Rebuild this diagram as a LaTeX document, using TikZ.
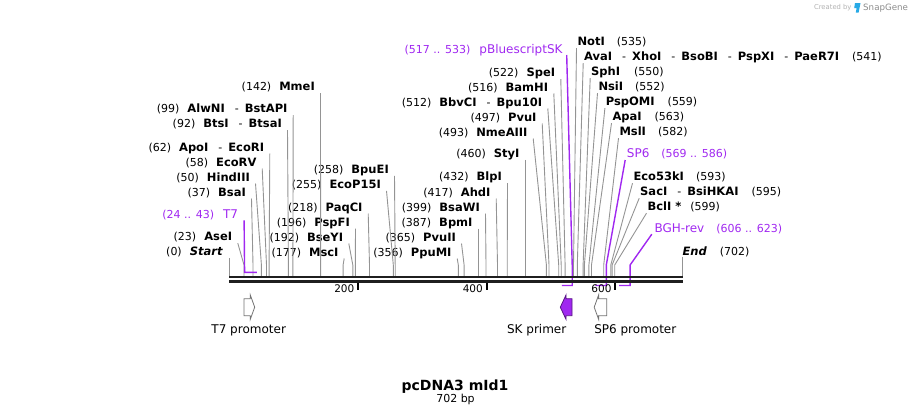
\documentclass[tikz,border=0pt]{standalone}
\usepackage{fontspec}
\setmainfont{DejaVu Sans}
\definecolor{prim}{RGB}{160,40,240}
\definecolor{logoblue}{RGB}{40,170,230}
\newcommand\enzname[1]{{\fontsize{11.5}{13}\selectfont\bfseries #1}}
\newcommand\featname[1]{{\fontsize{12}{14}\selectfont #1}}
\newcommand\orsep{\hspace{10pt}-\hspace{6pt}}
\newcommand\numsep{\hspace{8pt}}
\tikzset{
	site/.style={inner sep=0pt, font=\fontsize{11}{13}\selectfont},
	lsite/.style={site, anchor=base east},
	rsite/.style={site, anchor=base west},
	cut/.style={draw=black!42, line width=0.9pt},
	oligo/.style={draw=prim, line width=1.4pt},
	backbone/.style={draw=black!88, line width=2.5pt},
	promo/.style={draw=black!55, fill=white, line width=0.8pt},
	skbox/.style={draw=prim!55!black, fill=prim, line width=0.8pt}
}

\begin{document}
\begin{tikzpicture}[x=1pt,y=-1pt]
	\useasboundingbox (0,0) rectangle (912,415);

	\coordinate (bt) at (0,275.8);
	\coordinate (pt) at (0,272.3);
	\coordinate (pb) at (0,285.5);

	\coordinate (s0) at (229.2,265);
	\coordinate (s23) at (244.0,265);
	\coordinate (s24) at (244.6,265);
	\coordinate (s37) at (253.0,265);
	\coordinate (s43) at (256.9,265);
	\coordinate (s50) at (261.4,265);
	\coordinate (s58) at (266.5,265);
	\coordinate (s62) at (269.1,265);
	\coordinate (s92) at (288.4,265);
	\coordinate (s99) at (292.9,265);
	\coordinate (s142) at (320.6,265);
	\coordinate (s177) at (343.1,265);
	\coordinate (s192) at (352.8,265);
	\coordinate (s196) at (355.3,265);
	\coordinate (s218) at (369.5,265);
	\coordinate (s255) at (393.3,265);
	\coordinate (s258) at (395.2,265);
	\coordinate (s356) at (458.3,265);
	\coordinate (s365) at (464.1,265);
	\coordinate (s387) at (478.2,265);
	\coordinate (s399) at (486.0,265);
	\coordinate (s417) at (497.5,265);
	\coordinate (s432) at (507.2,265);
	\coordinate (s460) at (525.2,265);
	\coordinate (s493) at (546.4,265);
	\coordinate (s497) at (549.0,265);
	\coordinate (s512) at (558.7,265);
	\coordinate (s516) at (561.2,265);
	\coordinate (s517) at (561.9,265);
	\coordinate (s522) at (565.1,265);
	\coordinate (s533) at (572.2,265);
	\coordinate (s535) at (573.5,265);
	\coordinate (s541) at (577.3,265);
	\coordinate (s550) at (583.1,265);
	\coordinate (s552) at (584.4,265);
	\coordinate (s559) at (588.9,265);
	\coordinate (s563) at (591.5,265);
	\coordinate (s569) at (595.4,265);
	\coordinate (s582) at (603.7,265);
	\coordinate (s586) at (606.3,265);
	\coordinate (s593) at (610.8,265);
	\coordinate (s595) at (612.1,265);
	\coordinate (s599) at (614.7,265);
	\coordinate (s606) at (619.2,265);
	\coordinate (s623) at (630.1,265);
	\coordinate (s702) at (682.0,265);

	\draw (315,90.7) node[lsite] (mme) {(142)\numsep\enzname{MmeI}};
	\draw (287.7,112.7) node[lsite] (alw) {(99)\numsep\enzname{AlwNI}\orsep\enzname{BstAPI}};
	\draw (282,127.7) node[lsite] (bts) {(92)\numsep\enzname{BtsI}\orsep\enzname{BtsaI}};
	\draw (264.3,151) node[lsite] (apo) {(62)\numsep\enzname{ApoI}\orsep\enzname{EcoRI}};
	\draw (256.7,166) node[lsite] (ecv) {(58)\numsep\enzname{EcoRV}};
	\draw (250,181) node[lsite] (hind) {(50)\numsep\enzname{HindIII}};
	\draw (246,196) node[lsite] (bsa) {(37)\numsep\enzname{BsaI}};
	\draw (238.3,218.3) node[lsite, text=prim] (t7) {(24 .. 43)\hspace{9pt}\featname{T7}};
	\draw (232.3,240.7) node[lsite] (ase) {(23)\numsep\enzname{AseI}};
	\draw (222.7,255.7) node[lsite] (start) {(0)\numsep\enzname{\itshape Start}};

	\draw (389,173.3) node[lsite] (bpu) {(258)\numsep\enzname{BpuEI}};
	\draw (381,188.3) node[lsite] (ecop) {(255)\numsep\enzname{EcoP15I}};
	\draw (362.7,211) node[lsite] (paq) {(218)\numsep\enzname{PaqCI}};
	\draw (350,226) node[lsite] (pspf) {(196)\numsep\enzname{PspFI}};
	\draw (343.3,241) node[lsite] (bsey) {(192)\numsep\enzname{BseYI}};
	\draw (338.7,256) node[lsite] (msc) {(177)\numsep\enzname{MscI}};

	\draw (519.7,157.3) node[lsite] (sty) {(460)\numsep\enzname{StyI}};
	\draw (502,180.7) node[lsite] (blp) {(432)\numsep\enzname{BlpI}};
	\draw (490.7,196) node[lsite] (ahd) {(417)\numsep\enzname{AhdI}};
	\draw (480,211) node[lsite] (bsaw) {(399)\numsep\enzname{BsaWI}};
	\draw (472.7,226) node[lsite] (bpm) {(387)\numsep\enzname{BpmI}};
	\draw (456,241) node[lsite] (pvutwo) {(365)\numsep\enzname{PvuII}};
	\draw (451.7,256) node[lsite] (ppu) {(356)\numsep\enzname{PpuMI}};

	\draw (562.7,53.3) node[lsite, text=prim] (sk) {(517 .. 533)\hspace{9pt}\featname{pBluescriptSK}};
	\draw (555.3,76.7) node[lsite] (spe) {(522)\numsep\enzname{SpeI}};
	\draw (548.3,91) node[lsite] (bam) {(516)\numsep\enzname{BamHI}};
	\draw (542.3,106) node[lsite] (bbv) {(512)\numsep\enzname{BbvCI}\orsep\enzname{Bpu10I}};
	\draw (536.7,121) node[lsite] (pvuone) {(497)\numsep\enzname{PvuI}};
	\draw (527.7,136) node[lsite] (nme) {(493)\numsep\enzname{NmeAIII}};

	\draw (577.3,45.7) node[rsite] (noti) {\enzname{NotI}\hspace{12pt}(535)};
	\draw (584,60.7) node[rsite] (ava) {\enzname{AvaI}\orsep\enzname{XhoI}\orsep\enzname{BsoBI}\orsep\enzname{PspXI}\orsep\enzname{PaeR7I}\hspace{13pt}(541)};
	\draw (591,75.7) node[rsite] (sph) {\enzname{SphI}\hspace{14pt}(550)};
	\draw (598.3,90.7) node[rsite] (nsi) {\enzname{NsiI}\hspace{12pt}(552)};
	\draw (605.7,105.7) node[rsite] (pspo) {\enzname{PspOMI}\hspace{13pt}(559)};
	\draw (612.3,120.7) node[rsite] (apa) {\enzname{ApaI}\hspace{13pt}(563)};
	\draw (619.3,135.7) node[rsite] (msl) {\enzname{MslI}\hspace{12pt}(582)};
	\draw (626.7,157.7) node[rsite, text=prim] (sp6) {\featname{SP6}\hspace{12pt}(569 .. 586)};
	\draw (633.3,180.7) node[rsite] (eco53) {\enzname{Eco53kI}\hspace{12pt}(593)};
	\draw (640,195.7) node[rsite] (sac) {\enzname{SacI}\orsep\enzname{BsiHKAI}\hspace{13pt}(595)};
	\draw (647.3,210.7) node[rsite] (bcl) {\enzname{BclI *}\hspace{9pt}(599)};
	\draw (654.3,232.7) node[rsite, text=prim] (bgh) {\featname{BGH-rev}\hspace{12pt}(606 .. 623)};
	\draw (682.3,255.7) node[rsite] (end) {\enzname{\itshape End}\hspace{13pt}(702)};

	\draw [cut] ([shift={(5.5,2.5)}]mme.base east) -- (s142) -- (s142 |- bt);
	\draw [cut] ([shift={(5.5,2.5)}]alw.base east) -- (s99) -- (s99 |- bt);
	\draw [cut] ([shift={(5.5,2.5)}]bts.base east) -- (s92) -- (s92 |- bt);
	\draw [cut] ([shift={(5.5,2.5)}]apo.base east) -- (s62) -- (s62 |- bt);
	\draw [cut] ([shift={(5.5,2.5)}]ecv.base east) -- (s58) -- (s58 |- bt);
	\draw [cut] ([shift={(5.5,2.5)}]hind.base east) -- (s50) -- (s50 |- bt);
	\draw [cut] ([shift={(5.5,2.5)}]bsa.base east) -- (s37) -- (s37 |- bt);
	\draw [cut] ([shift={(5.5,2.5)}]ase.base east) -- (s23) -- (s23 |- bt);
	\draw [cut] ([shift={(6.5,2.5)}]start.base east) -- (s0) -- (s0 |- bt);
	\draw [cut] ([shift={(5.5,2.5)}]bpu.base east) -- (s258) -- (s258 |- bt);
	\draw [cut] ([shift={(5.5,2.5)}]ecop.base east) -- (s255) -- (s255 |- bt);
	\draw [cut] ([shift={(5.5,2.5)}]paq.base east) -- (s218) -- (s218 |- bt);
	\draw [cut] ([shift={(5.5,2.5)}]pspf.base east) -- (s196) -- (s196 |- bt);
	\draw [cut] ([shift={(5.5,2.5)}]bsey.base east) -- (s192) -- (s192 |- bt);
	\draw [cut] ([shift={(5.5,2.5)}]msc.base east) -- (s177) -- (s177 |- bt);
	\draw [cut] ([shift={(5.5,2.5)}]sty.base east) -- (s460) -- (s460 |- bt);
	\draw [cut] ([shift={(5.5,2.5)}]blp.base east) -- (s432) -- (s432 |- bt);
	\draw [cut] ([shift={(5.5,2.5)}]ahd.base east) -- (s417) -- (s417 |- bt);
	\draw [cut] ([shift={(5.5,2.5)}]bsaw.base east) -- (s399) -- (s399 |- bt);
	\draw [cut] ([shift={(5.5,2.5)}]bpm.base east) -- (s387) -- (s387 |- bt);
	\draw [cut] ([shift={(5.5,2.5)}]pvutwo.base east) -- (s365) -- (s365 |- bt);
	\draw [cut] ([shift={(5.5,2.5)}]ppu.base east) -- (s356) -- (s356 |- bt);
	\draw [cut] ([shift={(5.5,2.5)}]spe.base east) -- (s522) -- (s522 |- bt);
	\draw [cut] ([shift={(5.5,2.5)}]bam.base east) -- (s516) -- (s516 |- bt);
	\draw [cut] ([shift={(5.5,2.5)}]bbv.base east) -- (s512) -- (s512 |- bt);
	\draw [cut] ([shift={(5.5,2.5)}]pvuone.base east) -- (s497) -- (s497 |- bt);
	\draw [cut] ([shift={(5.5,2.5)}]nme.base east) -- (s493) -- (s493 |- bt);
	\draw [cut] ([shift={(-0.8,2.5)}]noti.base west) -- (s535) -- (s535 |- bt);
	\draw [cut] ([shift={(-0.8,2.5)}]ava.base west) -- (s541) -- (s541 |- bt);
	\draw [cut] ([shift={(-0.8,2.5)}]sph.base west) -- (s550) -- (s550 |- bt);
	\draw [cut] ([shift={(-0.8,2.5)}]nsi.base west) -- (s552) -- (s552 |- bt);
	\draw [cut] ([shift={(-0.8,2.5)}]pspo.base west) -- (s559) -- (s559 |- bt);
	\draw [cut] ([shift={(-0.8,2.5)}]apa.base west) -- (s563) -- (s563 |- bt);
	\draw [cut] ([shift={(-0.8,2.5)}]msl.base west) -- (s582) -- (s582 |- bt);
	\draw [cut] ([shift={(-0.8,2.5)}]eco53.base west) -- (s593) -- (s593 |- bt);
	\draw [cut] ([shift={(-0.8,2.5)}]sac.base west) -- (s595) -- (s595 |- bt);
	\draw [cut] ([shift={(-0.8,2.5)}]bcl.base west) -- (s599) -- (s599 |- bt);
	\draw [cut] ([shift={(-0.3,1)}]end.base west) -- (s702) -- (s702 |- bt);

	\draw [oligo] ([shift={(5.8,2)}]t7.base east) -- (s24 |- pt) -- (s43 |- pt);
	\draw [oligo] ([shift={(4,1.7)}]sk.base east) -- (s533) -- (s533 |- pb) -- (s517 |- pb);
	\draw [oligo] ([shift={(-1.5,2.3)}]sp6.base west) -- (s586) -- (s586 |- pb) -- (s569 |- pb);
	\draw [oligo] ([shift={(-2.5,1.5)}]bgh.base west) -- (s623) -- (s623 |- pb) -- (s606 |- pb);

	\draw [backbone] (229.2,277) -- (682.5,277);
	\draw [backbone] (229.2,281.6) -- (682.5,281.6);

	\draw [line width=2pt] (357.9,282.5) -- (357.9,290);
	\draw [line width=2pt] (486.6,282.5) -- (486.6,290);
	\draw [line width=2pt] (615.3,282.5) -- (615.3,290);
	\draw (354.5,292.7) node[lsite, font=\fontsize{10.5}{12}\selectfont] (m200) {200};
	\draw (483,292.7) node[lsite, font=\fontsize{10.5}{12}\selectfont] (m400) {400};
	\draw (611.7,292.7) node[lsite, font=\fontsize{10.5}{12}\selectfont] (m600) {600};

	\draw [promo] (244,298.7) -- (250.3,298.7) -- (250.3,295) -- (254.7,307.2) -- (250.3,319.3) -- (250.3,315.7) -- (244,315.7) -- cycle;
	\draw [skbox] (572,298.7) -- (566,298.7) -- (566,295) -- (560.3,307.2) -- (566,319.3) -- (566,315.7) -- (572,315.7) -- cycle;
	\draw [promo] (606.7,298.7) -- (598.6,298.7) -- (598.6,295) -- (594.2,307.2) -- (598.6,319.3) -- (598.6,315.7) -- (606.7,315.7) -- cycle;

	\draw (248.7,333.3) node[site, anchor=base, font=\fontsize{12}{14}\selectfont] (t7prom) {T7 promoter};
	\draw (536.7,333.3) node[site, anchor=base, font=\fontsize{12}{14}\selectfont] (skprim) {SK primer};
	\draw (635.3,333.3) node[site, anchor=base, font=\fontsize{12}{14}\selectfont] (sp6prom) {SP6 promoter};

	\draw (455,390) node[site, anchor=base, font=\fontsize{14}{16}\selectfont\bfseries] (title) {pcDNA3 mId1};
	\draw (455.5,402.7) node[site, anchor=base] (size) {702 bp};

	\draw (851.7,9.6) node[site, anchor=base east, font=\fontsize{6.8}{8}\selectfont, text=black!30] (made) {Created by};
	\fill [logoblue] (855,3) -- (860.5,3) -- (858.6,12.5) -- (855.8,12.5) -- (856.6,8) -- (854.2,8) -- cycle;
	\draw (863,10.5) node[site, anchor=base west, font=\fontsize{8.7}{10}\selectfont, text=black!45] (brand) {SnapGene};
\end{tikzpicture}
\end{document}
